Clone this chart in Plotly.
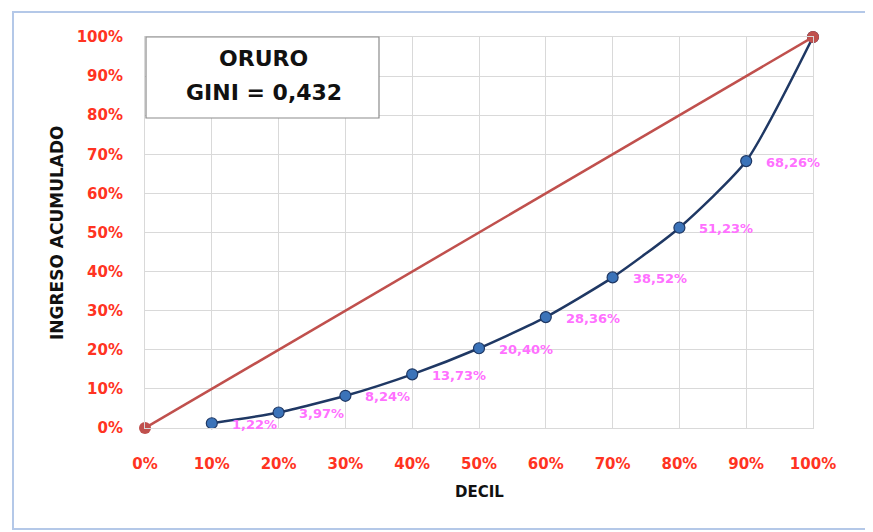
import plotly.graph_objects as go

# Data
deciles = [0.1, 0.2, 0.3, 0.4, 0.5, 0.6, 0.7, 0.8, 0.9, 1.0]
ingreso = [0.0122, 0.0397, 0.0824, 0.1373, 0.2040, 0.2836, 0.3852, 0.5123, 0.6826, 1.0]
labels = ["1,22%", "3,97%", "8,24%", "13,73%", "20,40%", "28,36%", "38,52%", "51,23%", "68,26%", ""]
equality_x = [0.0, 1.0]
equality_y = [0.0, 1.0]
tick_vals = [0.0, 0.1, 0.2, 0.3, 0.4, 0.5, 0.6, 0.7, 0.8, 0.9, 1.0]
tick_text = ["0%", "10%", "20%", "30%", "40%", "50%", "60%", "70%", "80%", "90%", "100%"]
title_lines = ["ORURO", "GINI = 0,432"]
x_title = "DECIL"
y_title = "INGRESO ACUMULADO"

FONT = "DejaVu Sans"
TICK_RED = "#FF3322"
GRID = "#D9D9D9"
NAVY = "#1F3864"
MARK = "#3B73B9"
RED = "#C0504D"
PINK = "#FF70FF"

# page body has an 8px margin -> figure origin at (8, 8) in the window
OFF = 8
PL, PR, PT, PB = 145 - OFF, 813 - OFF, 37 - OFF, 428 - OFF  # plot area in figure px
W, H = 873 - OFF, 532 - OFF
PW, PH = PR - PL, PB - PT


def px(xp):
    return (xp - OFF - PL) / PW


def py(yp):
    return (PB - (yp - OFF)) / PH


fig = go.Figure()

fig.add_trace(go.Scatter(
    x=deciles, y=ingreso, mode="lines+markers",
    line=dict(color=NAVY, width=2.5, shape="spline", smoothing=0.6),
    marker=dict(size=11, color=MARK, line=dict(color=NAVY, width=1.2)),
    cliponaxis=False, showlegend=False, hoverinfo="skip",
))

fig.add_trace(go.Scatter(
    x=equality_x, y=equality_y, mode="lines+markers",
    line=dict(color=RED, width=2.5),
    marker=dict(size=12, color=RED),
    cliponaxis=False, showlegend=False, hoverinfo="skip",
))

annotations = []
for xv, yv, t in zip(deciles, ingreso, labels):
    if not t:
        continue
    annotations.append(dict(
        x=xv, y=yv, xref="x", yref="y", text=t, showarrow=False,
        xanchor="left", yanchor="middle", xshift=18, yshift=-1,
        font=dict(family=FONT, size=13, color=PINK, weight="bold"),
    ))

# Title box text
annotations.append(dict(
    x=px(263), y=py(58), xref="paper", yref="paper", text=title_lines[0], showarrow=False,
    xanchor="center", yanchor="middle",
    font=dict(family=FONT, size=22, color="#111111", weight="bold"),
))
annotations.append(dict(
    x=px(264), y=py(92), xref="paper", yref="paper", text=title_lines[1], showarrow=False,
    xanchor="center", yanchor="middle",
    font=dict(family=FONT, size=22, color="#111111", weight="bold"),
))

# Axis titles
annotations.append(dict(
    x=px(57), y=py(232), xref="paper", yref="paper", text=y_title,
    showarrow=False, textangle=-90, xanchor="center", yanchor="middle",
    font=dict(family=FONT, size=17, color="#111111", weight="bold"),
))
annotations.append(dict(
    x=px(479), y=py(492), xref="paper", yref="paper", text=x_title,
    showarrow=False, xanchor="center", yanchor="middle",
    font=dict(family=FONT, size=15, color="#111111", weight="bold"),
))

shapes = [
    # title box
    dict(type="rect", xref="paper", yref="paper", x0=px(146), x1=px(379),
         y0=py(118), y1=1.0, line=dict(color="#8C8C8C", width=1.2),
         fillcolor="white", layer="above"),
    # outer chart border
    dict(type="rect", xref="paper", yref="paper", x0=px(13), x1=px(866),
         y0=py(529), y1=py(12), line=dict(color="#B4C8E8", width=2),
         fillcolor="rgba(0,0,0,0)", layer="below"),
]

axis_common = dict(
    range=[0, 1], tickvals=tick_vals, ticktext=tick_text,
    showgrid=True, gridcolor=GRID, gridwidth=1, zeroline=False,
    showline=True, linecolor=GRID, linewidth=1, mirror=True,
    tickfont=dict(family=FONT, size=15, color=TICK_RED, weight="bold"),
    ticks="", fixedrange=True,
)

fig.update_layout(
    width=W, height=H,
    margin=dict(l=PL, r=W - PR, t=PT, b=H - PB),
    paper_bgcolor="white", plot_bgcolor="white",
    xaxis=dict(**axis_common, ticklabelstandoff=22),
    yaxis=dict(**axis_common, ticklabelstandoff=18),
    annotations=annotations, shapes=shapes,
    showlegend=False,
)

fig.write_html("out.html")
